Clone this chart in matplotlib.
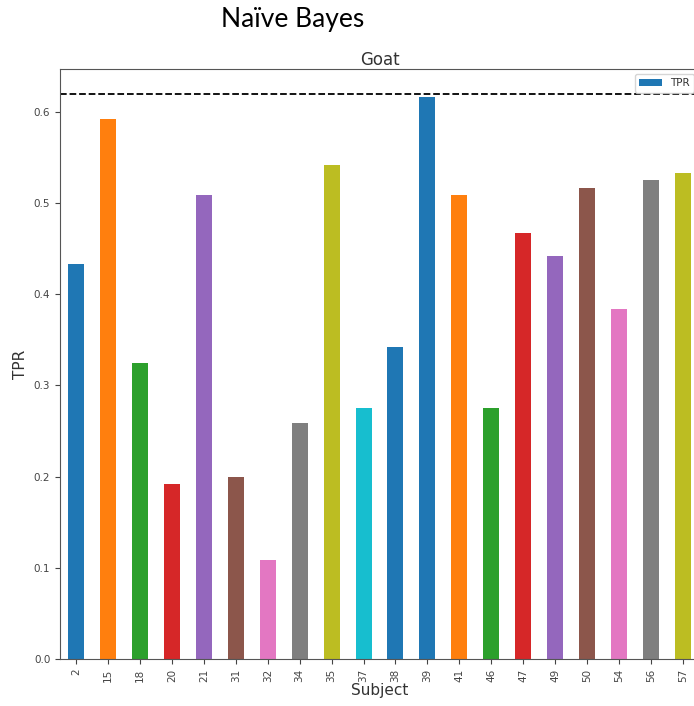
import numpy as np
import pandas as pd
import matplotlib
matplotlib.use('Agg')
import matplotlib.pyplot as plt

cmap=plt.get_cmap('tab10')

subjects=['2','15','18','20','21','31','32','34','35','37','38','39','41','46','47','49','50','54','56','57']
tpr=[0.4333,0.5917,0.3250,0.1917,0.5083,0.2000,0.1083,0.2583,0.5417,0.2750,
     0.3417,0.6167,0.5083,0.2750,0.4667,0.4417,0.5167,0.3833,0.5250,0.5333]
color_idx=[0,1,2,3,4,5,6,7,8,9,0,0,1,2,3,4,5,6,7,8]
threshold=0.62

df=pd.DataFrame({'TPR':tpr},index=subjects)
df.index.name='Subject'

fig=plt.figure(figsize=(6.94,7.06),dpi=100)
ax=fig.add_axes([60/694,47/706,639/694,590/706])
df['TPR'].plot(kind='bar',ax=ax,color=[cmap(i) for i in color_idx],width=0.5,label='TPR')
ax.axhline(threshold,color='k',ls='--',lw=1.3)
ax.set_ylim(0,0.647)
ax.set_yticks(np.arange(0,0.61,0.1))
ax.tick_params(labelsize=7.5,colors='#444444')
ax.tick_params(axis='x',labelrotation=90)
for s in ax.spines.values():
  s.set_color('#555555')
ax.set_title('Goat',fontsize=12,color='#333333',pad=3)
ax.set_xlabel('Subject',fontsize=11,color='#333333',labelpad=1)
ax.set_ylabel('TPR',fontsize=11,color='#333333')
leg=ax.legend(loc='upper right',fontsize=7.5,handlelength=2.2)
for t in leg.get_texts():
  t.set_color('#333333')

fig.text(293/694,1-7/706,'Naïve Bayes',fontsize=19,family=['Lato','DejaVu Sans'],ha='center',va='top')

fig.savefig('out.png',dpi=100)
